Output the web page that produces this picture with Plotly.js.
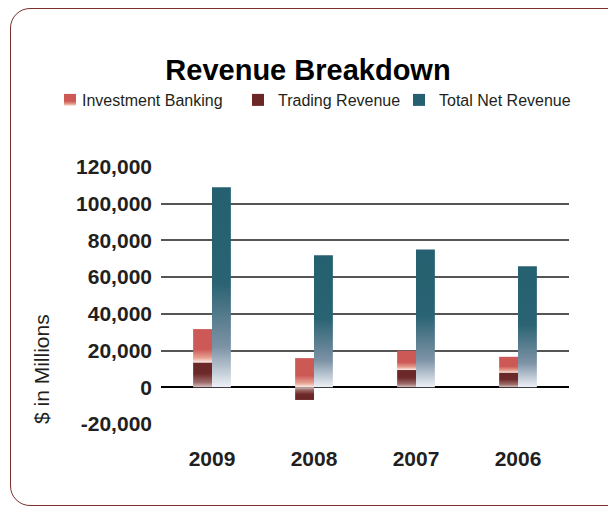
<!DOCTYPE html>
<html>
<head>
<meta charset="utf-8">
<script src="https://cdn.plot.ly/plotly-3.0.1.min.js"></script>
<style>
  html, body { margin: 0; padding: 0; background: #fff; overflow: hidden; }
  #frame {
    position: absolute; left: 10px; top: 8px; width: 620px; height: 498px;
    border: 1.5px solid #7a2e2e; border-radius: 20px; box-sizing: border-box;
  }
  #myDiv { position: absolute; left: 0; top: 0; width: 608px; height: 510px; }
</style>
</head>
<body>
<div id="frame"></div>
<div id="myDiv"></div>
<script>
// values, $ in millions
let years = ['2009', '2008', '2007', '2006'];
let seriesNames = ['Investment Banking', 'Trading Revenue', 'Total Net Revenue'];
let investmentBanking = [18300, 15900, 10500, 8700];
let tradingRevenue = [13400, -6900, 9400, 7900];
let totalNetRevenue = [109000, 71900, 75100, 66000];

let yTickVals = [-20000, 0, 20000, 40000, 60000, 80000, 100000, 120000];
let yTickText = ['-20,000', '0', '20,000', '40,000', '60,000', '80,000', '100,000', '120,000'];

// investment banking sits on top of positive trading revenue
let ibBase = tradingRevenue.map(v => Math.max(v, 0));

let textColor = '#231f20';

let ib = {
    x: years,
    y: investmentBanking,
    base: ibBase,
    type: 'bar',
    name: seriesNames[0],
    offsetgroup: 'a',
    legend: 'legend',
    marker: { color: '#cd5957', line: { width: 0 } }
};

let trading = {
    x: years,
    y: tradingRevenue,
    type: 'bar',
    name: seriesNames[1],
    offsetgroup: 'a',
    legend: 'legend2',
    marker: { color: '#6b2727', line: { width: 0 } }
};

let total = {
    x: years,
    y: totalNetRevenue,
    type: 'bar',
    name: seriesNames[2],
    offsetgroup: 'b',
    legend: 'legend3',
    marker: { color: '#24606f', line: { width: 0 } }
};

let data = [ib, trading, total];

// one legend per entry so each can sit where the original has it
function legendAt(px) {
    return {
        orientation: 'h',
        xref: 'container', yref: 'container',
        x: px / 608, y: 1 - 100 / 510,
        xanchor: 'left', yanchor: 'middle',
        font: { size: 16, color: textColor },
        itemclick: false
    };
}

let layout = {
    width: 608,
    height: 510,
    margin: { l: 161, r: 39, t: 167, b: 86 },
    paper_bgcolor: 'rgba(0,0,0,0)',
    plot_bgcolor: 'rgba(0,0,0,0)',
    font: { family: 'Liberation Sans, Arial, sans-serif', color: textColor },
    title: {
        text: '<b>Revenue Breakdown</b>',
        font: { size: 29, color: '#000' },
        xref: 'container', yref: 'container',
        x: 308 / 608, y: 1 - 70 / 510,
        xanchor: 'center', yanchor: 'middle'
    },
    barmode: 'group',
    bargap: 0.63,
    bargroupgap: 0,
    showlegend: true,
    legend: legendAt(50),
    legend2: legendAt(238),
    legend3: legendAt(399),
    xaxis: {
        type: 'category',
        showgrid: false,
        showline: false,
        zeroline: false,
        ticks: '',
        ticklabelstandoff: 20,
        tickfont: { size: 21, color: textColor, weight: 'bold' }
    },
    yaxis: {
        range: [-20000, 120000],
        tickvals: yTickVals,
        ticktext: yTickText,
        showgrid: true,
        gridcolor: '#555',
        gridwidth: 2,
        zeroline: true,
        zerolinecolor: '#000',
        zerolinewidth: 2,
        showline: false,
        ticks: '',
        ticklabelstandoff: 8,
        tickfont: { size: 21, color: textColor, weight: 'bold' }
    },
    annotations: [{
        text: '$ in Millions',
        xref: 'paper', yref: 'paper',
        x: (41 - 161) / 408, y: (424 - 369) / 257,
        xanchor: 'center', yanchor: 'middle',
        textangle: -90,
        showarrow: false,
        font: { size: 21, color: textColor }
    }]
};

// gradient stops per series, from the bar end (top) to the base
let gradients = {
    0: [[0, '#cd5957'], [0.6, '#cd5957'], [0.85, '#e6a090'], [1, '#fdf0ea']],
    1: [[0, '#6b2727'], [0.45, '#6e2a2a'], [0.8, '#9c6b69'], [1, '#d9c4c2']],
    2: [[0, '#24606f'], [0.48, '#2a6373'], [0.8, '#7d93a6'], [1, '#eef1f6']]
};

function addGradient(defs, id, stops, flip) {
    let ns = 'http://www.w3.org/2000/svg';
    let g = document.createElementNS(ns, 'linearGradient');
    g.setAttribute('id', id);
    g.setAttribute('x1', 0);
    g.setAttribute('x2', 0);
    g.setAttribute('y1', flip ? 1 : 0);
    g.setAttribute('y2', flip ? 0 : 1);
    stops.forEach(s => {
        let st = document.createElementNS(ns, 'stop');
        st.setAttribute('offset', s[0]);
        st.setAttribute('stop-color', s[1]);
        g.appendChild(st);
    });
    defs.appendChild(g);
}

function paintBars(gd) {
    let defs = gd.querySelector('.main-svg defs');
    Object.keys(gradients).forEach(k => {
        addGradient(defs, 'grad' + k, gradients[k], false);
        addGradient(defs, 'grad' + k + 'neg', gradients[k], true);
    });

    gd.querySelectorAll('.barlayer .trace').forEach(tr => {
        let idx = tr.__data__[0].trace.index;
        let vals = data[idx].y;
        tr.querySelectorAll('.point path').forEach((p, i) => {
            let neg = vals[i] < 0;
            p.style.fill = 'url(#grad' + idx + (neg ? 'neg' : '') + ')';
        });
    });
}

// legend swatches get the same gradients, labels sit closer to them
function paintLegends(gd) {
    gd.querySelectorAll('text.legendtext').forEach(t => {
        let idx = seriesNames.indexOf(t.textContent.trim());
        if (t.getAttribute('x') !== '32') t.setAttribute('x', 32);
        let item = t.parentNode;
        if (idx < 0 || !item) return;
        item.querySelectorAll('.legendpoints path').forEach(p => {
            let fill = 'url(#grad' + idx + ')';
            if (p.style.fill.indexOf('grad') < 0) p.style.fill = fill;
        });
    });
}

Plotly.newPlot('myDiv', data, layout, { displayModeBar: false, staticPlot: true })
    .then(gd => {
        paintBars(gd);
        paintLegends(gd);
        // the extra legends can be drawn a little later, catch them as they appear
        let obs = new MutationObserver(() => paintLegends(gd));
        obs.observe(gd, { childList: true, subtree: true });
    });
</script>
</body>
</html>
